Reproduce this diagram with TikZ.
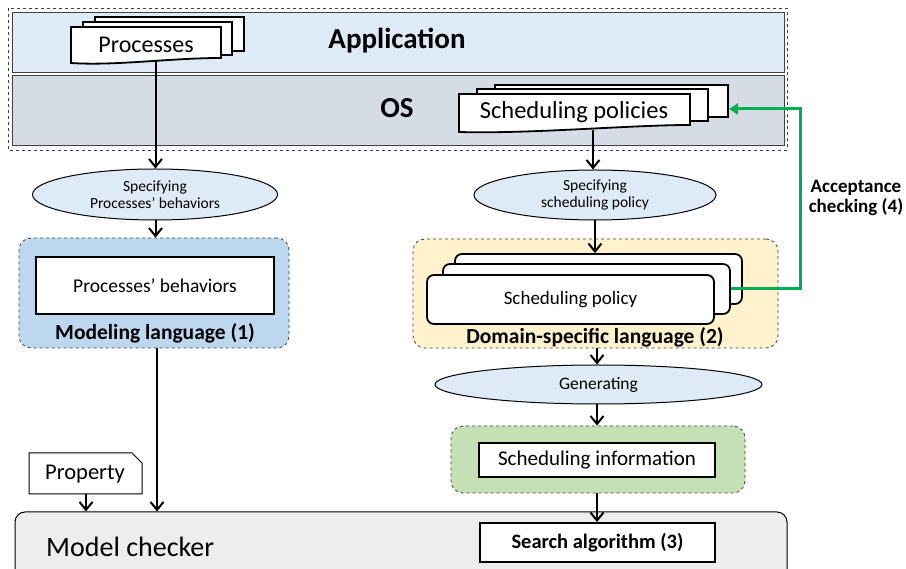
\documentclass[tikz,border=0pt]{standalone}
\usepackage{fontspec}
\setmainfont{Carlito}
\usetikzlibrary{arrows.meta,shapes.geometric}
\definecolor{appfill}{HTML}{DEEAF6}
\definecolor{osfill}{HTML}{D6DCE5}
\definecolor{ellfill}{HTML}{DEEBF7}
\definecolor{mlfill}{HTML}{BDD7EE}
\definecolor{dslfill}{HTML}{FFF2CC}
\definecolor{sifill}{HTML}{C5E0B4}
\definecolor{mcfill}{HTML}{EDEDED}
\definecolor{accgreen}{HTML}{00B050}
\definecolor{edgegray}{HTML}{404040}
\newcommand{\fs}[1]{\fontsize{#1}{#1}\selectfont}
\begin{document}
\begin{tikzpicture}[x=1pt,y=-1pt,
  band/.style={draw=edgegray, line width=0.8pt, anchor=north west, inner sep=0pt},
  group/.style={draw=edgegray, dashed, line width=0.8pt, rounded corners=12pt, inner sep=0pt},
  plainbox/.style={draw=black, fill=white, line width=1.8pt, inner sep=0pt},
  card/.style={draw=black, fill=white, line width=1.8pt},
  rcard/.style={draw=black, fill=white, line width=1.8pt, rounded corners=7pt, inner sep=0pt},
  oval/.style={ellipse, draw=black, fill=ellfill, line width=1pt, inner sep=0pt},
  arr/.style={draw=black, line width=2pt, -{Straight Barb[length=8pt,width=13pt,line width=2pt]}},
  garr/.style={draw=accgreen, line width=3pt, -{Triangle[length=9pt,width=11pt]}},
  lbl/.style={font=\bfseries\fs{21.5}, inner sep=0pt},
]
\useasboundingbox (0,0) rectangle (906,569);
\clip (0,0) rectangle (906,569);

% application / OS layers
\draw[dashed, draw=edgegray, line width=0.8pt] (8,8) rectangle (787,150);
\node[band, fill=appfill, minimum width=772pt, minimum height=60pt] (app) at (12,12) {};
\node[band, fill=osfill, minimum width=772pt, minimum height=70pt] (os) at (12,75) {};
\node[font=\bfseries\fs{29}, inner sep=0pt] (applbl) at (397,41) {Application};
\node[font=\bfseries\fs{29}, inner sep=0pt] (oslbl) at (397,108) {OS};

% processes (document stack)
\draw[card] (95,17) rectangle (244,51);
\draw[card] (83,22) rectangle (232,55);
\draw[card] (71,27) -- (221,27) -- (221,58) .. controls (170,58) and (115,66) .. (71,63) -- cycle;
\node[font=\fs{24}, inner sep=0pt] (proc) at (146,45) {Processes};
\coordinate (procout) at (155.5,61.5);

% scheduling policies (document stack)
\draw[card] (495,85) rectangle (728,117);
\draw[card] (477,89) rectangle (708,121);
\draw[card] (459,94) -- (690,94) -- (690,125) .. controls (630,125) and (530,134) .. (459,132) -- cycle;
\node[font=\fs{24.5}, inner sep=0pt] (spol) at (574,112) {Scheduling policies};
\coordinate (spout) at (593,130);
\coordinate (spin) at (729,109);

% left column
\node[oval, minimum width=245pt, minimum height=51pt, align=center, font=\fs{15.5}] (spec1) at (155,194.5) {Specifying\\[2pt]Processes’ behaviors};
\node[group, fill=mlfill, minimum width=270pt, minimum height=110pt] (ml) at (154,293) {};
\node[plainbox, minimum width=238pt, minimum height=57pt, font=\fs{19.5}] (pb) at (155,285.5) {Processes’ behaviors};
\node[lbl] (mllbl) at (155,333) {Modeling language (1)};

% property
\draw[black, fill=white, line width=1pt] (29,453) -- (132,453) -- (142,463) -- (142,494) -- (29,494) -- cycle;
\node[font=\fs{22.5}, inner sep=0pt] (prop) at (85,474) {Property};
\coordinate (propout) at (86,494);

% model checker
\node[draw=black, fill=mcfill, line width=1pt, rounded corners=10pt, minimum width=772pt, minimum height=80pt, inner sep=0pt] (mc) at (401,552) {};
\node[font=\fs{28}, anchor=west, inner sep=0pt] (mclbl) at (46,547) {Model checker};
\node[plainbox, minimum width=235pt, minimum height=39pt, font=\bfseries\fs{20.5}] (sa) at (597.5,542.5) {Search algorithm (3)};

% right column
\node[oval, minimum width=242pt, minimum height=50pt, align=center, font=\fs{15.5}] (spec2) at (595,195) {Specifying\\[2pt]scheduling policy};
\node[group, fill=dslfill, minimum width=365pt, minimum height=109pt] (dsl) at (595.5,293.5) {};
\node[rcard, minimum width=287pt, minimum height=50pt] (cardc) at (598.5,279) {};
\node[rcard, minimum width=287pt, minimum height=50pt] (cardb) at (586.5,289) {};
\node[rcard, minimum width=287pt, minimum height=49pt, font=\fs{19}] (carda) at (570.5,299.5) {Scheduling policy};
\node[lbl] (dsllbl) at (595,337) {Domain-specific language (2)};
\node[oval, minimum width=327pt, minimum height=39pt, font=\fs{17.5}] (gen) at (598.5,384.5) {Generating};
\node[group, fill=sifill, minimum width=294pt, minimum height=67pt] (sig) at (598,459.5) {};
\node[plainbox, minimum width=236pt, minimum height=34pt, font=\fs{21}] (si) at (597,460) {Scheduling information};

% acceptance checking loop
\node[font=\bfseries\fs{19}, align=center, inner sep=0pt] (acc) at (856,198) {Acceptance\\[1pt]checking (4)};
\coordinate (gcorner) at (800,289);
\draw[garr] (cardb.east) -- (gcorner) |- (spin);

% flow
\draw[arr] (procout) -- (procout |- spec1.north);
\draw[arr] (procout |- spec1.south) -- (procout |- ml.north);
\coordinate (mlout) at (157,348);
\draw[arr] (mlout) -- (mlout |- mc.north);
\draw[arr] (propout) -- (propout |- mc.north);
\draw[arr] (spout) -- (spout |- spec2.north);
\draw[arr] (spec2.south) -- (spec2.south |- cardc.north);
\coordinate (dslout) at (597,348);
\draw[arr] (dslout) -- (dslout |- gen.north);
\draw[arr] (dslout |- gen.south) -- (dslout |- sig.north);
\draw[arr] (dslout |- sig.south) -- (dslout |- sa.north);
\end{tikzpicture}
\end{document}
